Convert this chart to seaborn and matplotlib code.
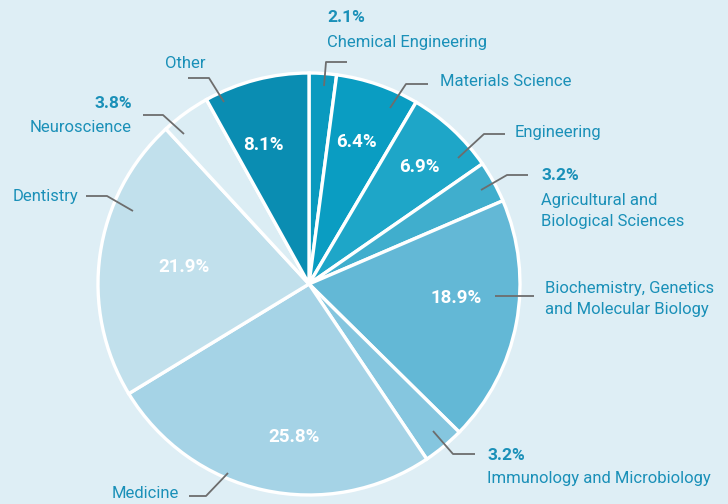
import matplotlib
matplotlib.use("Agg")
import matplotlib.pyplot as plt
import seaborn as sns

categories = ["Chemical Engineering", "Materials Science", "Engineering",
              "Agricultural and\nBiological Sciences",
              "Biochemistry, Genetics\nand Molecular Biology",
              "Immunology and Microbiology", "Medicine", "Dentistry",
              "Neuroscience", "Other"]
values = [2.1, 6.4, 6.9, 3.2, 18.9, 3.2, 25.8, 21.9, 3.8, 8.1]
colors = ["#0a9abf", "#0a9dc2", "#1ea6c8", "#40aecd", "#63b8d6",
          "#85c6df", "#a5d3e6", "#c1e0ec", "#dbedf4", "#0a8db2"]

sns.set_theme(style="white")
plt.rcParams["font.family"] = ["Roboto", "DejaVu Sans"]

BG = "#deeef5"
TXT = "#1a90b8"
LINE = "#6d6d6d"

fig = plt.figure(figsize=(7.28, 5.04), dpi=100, facecolor=BG)
ax = fig.add_axes([0, 0, 1, 1])
ax.set_facecolor(BG)

wedges, _ = ax.pie(values, colors=colors, startangle=-90, counterclock=True,
                   center=(309, 284), radius=211, frame=True,
                   wedgeprops=dict(edgecolor="white", linewidth=2.4))
ax.set_xlim(0, 728)
ax.set_ylim(504, 0)
ax.set_aspect("equal")
ax.axis("off")

# internal percentage labels
inner = {9: (263, 145), 1: (356, 142), 2: (419, 167), 4: (456, 298),
         6: (294, 437), 7: (184, 267)}
for i, (x, y) in inner.items():
    ax.text(x, y, f"{values[i]}%", color="white", fontsize=13.5, fontweight="bold",
            ha="center", va="center")

def leader(pts):
    xs, ys = zip(*pts)
    ax.plot(xs, ys, color=LINE, lw=1.3, solid_capstyle="butt")

fs = 12
# Chemical Engineering
leader([(324, 86), (326, 62), (347, 62)])
ax.text(327, 18, f"{values[0]}%", color=TXT, fontsize=fs + 0.5, fontweight="bold", ha="left", va="center")
ax.text(327, 43, categories[0], color=TXT, fontsize=fs, ha="left", va="center")
# Materials Science
leader([(390, 108), (406, 84), (428, 84)])
ax.text(440, 81, categories[1], color=TXT, fontsize=fs, ha="left", va="center")
# Engineering
leader([(458, 158), (484, 134), (505, 134)])
ax.text(515, 132, categories[2], color=TXT, fontsize=fs, ha="left", va="center")
# Agricultural
leader([(481, 190), (507, 175), (528, 175)])
ax.text(541, 176, f"{values[3]}%", color=TXT, fontsize=fs + 0.5, fontweight="bold", ha="left", va="center")
ax.text(541, 211, categories[3], color=TXT, fontsize=fs, ha="left", va="center", linespacing=1.45)
# Biochemistry
leader([(495, 296), (534, 296)])
ax.text(545, 299, categories[4], color=TXT, fontsize=fs, ha="left", va="center", linespacing=1.45)
# Immunology
leader([(433, 431), (453, 454), (475, 454)])
ax.text(487, 455, f"{values[5]}%", color=TXT, fontsize=fs + 0.5, fontweight="bold", ha="left", va="center")
ax.text(487, 478, categories[5], color=TXT, fontsize=fs, ha="left", va="center")
# Medicine
leader([(228, 473), (206, 496), (189, 496)])
ax.text(179, 493, categories[6], color=TXT, fontsize=fs, ha="right", va="center")
# Dentistry
leader([(133, 211), (107, 196), (86, 196)])
ax.text(78, 197, categories[7], color=TXT, fontsize=fs, ha="right", va="center")
# Neuroscience
leader([(184, 134), (163, 115), (143, 115)])
ax.text(132, 104, f"{values[8]}%", color=TXT, fontsize=fs + 0.5, fontweight="bold", ha="right", va="center")
ax.text(132, 128, categories[8], color=TXT, fontsize=fs, ha="right", va="center")
# Other
leader([(224, 102), (209, 78), (188, 78)])
ax.text(206, 64, categories[9], color=TXT, fontsize=fs, ha="right", va="center")

fig.savefig("out.png", dpi=100, facecolor=BG)
